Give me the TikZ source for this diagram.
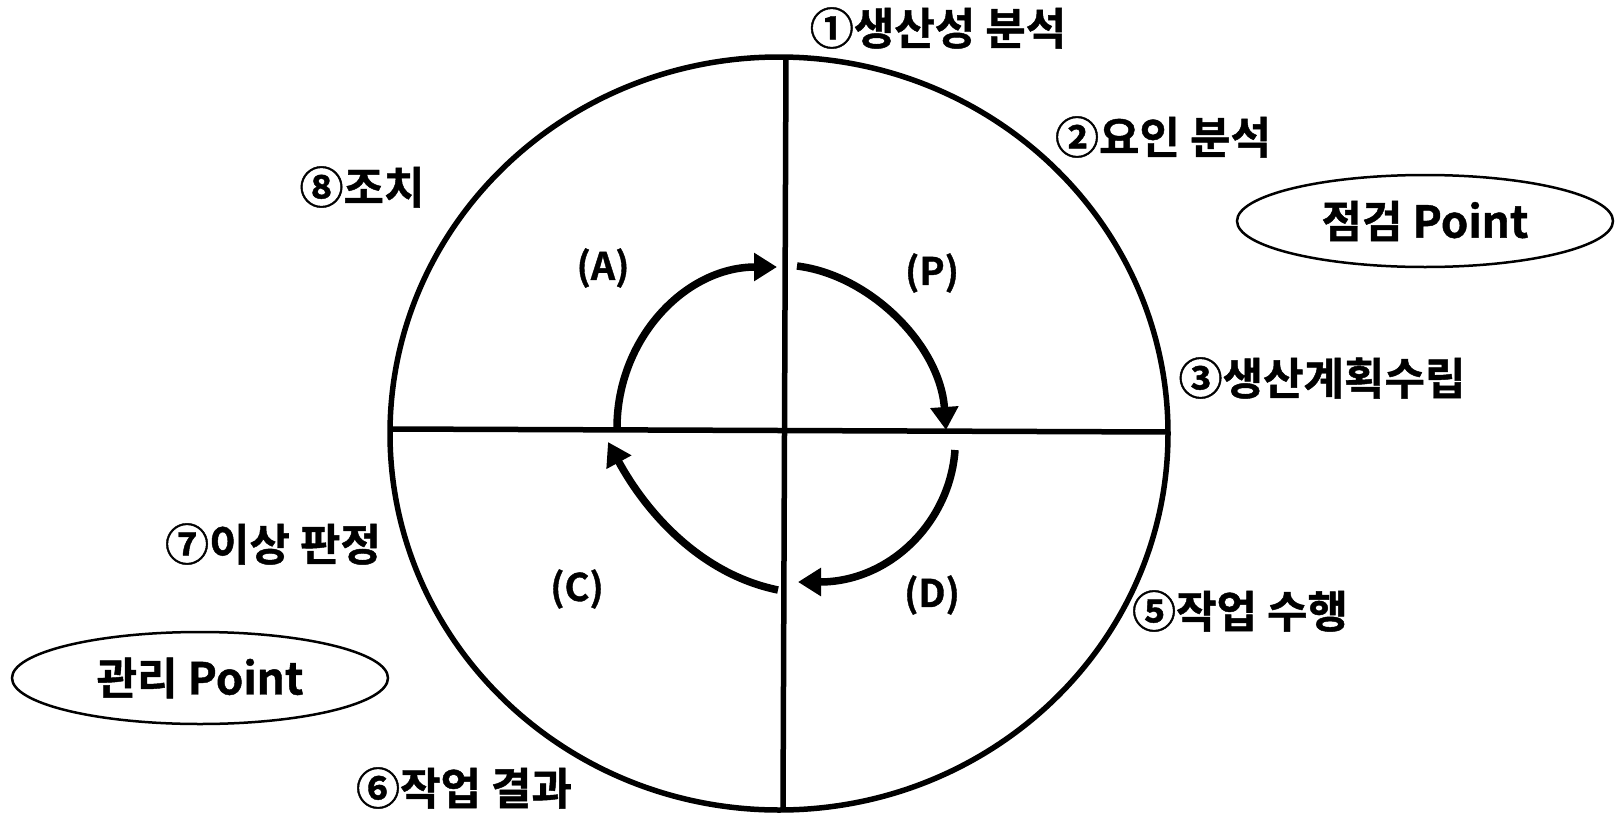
\documentclass[tikz,border=0pt]{standalone}
\usepackage{fontspec}
\setmainfont{Noto Sans CJK KR Bold}[FakeBold=1]
\usetikzlibrary{arrows.meta,shapes.geometric}
\begin{document}
\begin{tikzpicture}[x=1pt,y=-1pt,
 lbl/.style={font=\fontsize{44}{50}\selectfont, inner sep=0},
 quad/.style={font=\fontsize{38}{44}\selectfont, inner sep=0},
 pill/.style={draw, line width=2.5pt, ellipse, minimum width=376pt, minimum height=92pt, inner sep=0, font=\fontsize{44}{50}\selectfont},
 cyc/.style={line width=7.5pt, -{Triangle[length=23pt,width=27pt]}},
 frame/.style={line width=5.5pt}]
\useasboundingbox (0,0) rectangle (1615,814);
% outer circle
\draw[frame] (779,433.5) ellipse [x radius=389, y radius=376.5];
\coordinate (top) at (786,57);
\coordinate (bot) at (783,810);
\coordinate (lft) at (390,429);
\coordinate (rgt) at (1168,432);
\draw[frame] (top) -- (bot);
\draw[frame] (lft) -- (rgt);
% cycle arrows
\coordinate (a0) at (617,428);
\coordinate (a1) at (777,267);
\coordinate (p0) at (797,266);
\coordinate (p1) at (946,430);
\coordinate (d0) at (955,450);
\coordinate (d1) at (798,582);
\coordinate (c0) at (778,590);
\coordinate (c1) at (608,442);
\draw[cyc] (a0) .. controls (617,339) and (685,267) .. (a1);
\draw[cyc] (p0) .. controls (870,275) and (940,345) .. (p1);
\draw[cyc] (d0) .. controls (950,522) and (890,582) .. (d1);
\draw[cyc] (c0) .. controls (700,574) and (646,512) .. (c1);
% quadrant labels
\node[quad] (qa) at (603,268) {(A)};
\node[quad] (qp) at (932,273) {(P)};
\node[quad] (qc) at (577,589) {(C)};
\node[quad] (qd) at (932,595) {(D)};
% step labels
\node[lbl] (l1) at (938,28) {①생산성 분석};
\node[lbl] (l2) at (1163,137) {②요인 분석};
\node[lbl] (l8) at (362,187) {⑧조치};
\node[lbl] (l3) at (1322,378) {③생산계획수립};
\node[lbl] (l7) at (273,544) {⑦이상 판정};
\node[lbl] (l5) at (1240,611) {⑤작업 수행};
\node[lbl] (l6) at (464,788) {⑥작업 결과};
% points
\node[pill] (chk) at (1425,221) {점검 Point};
\node[pill] (mgmt) at (200,678) {관리 Point};
\end{tikzpicture}
\end{document}
